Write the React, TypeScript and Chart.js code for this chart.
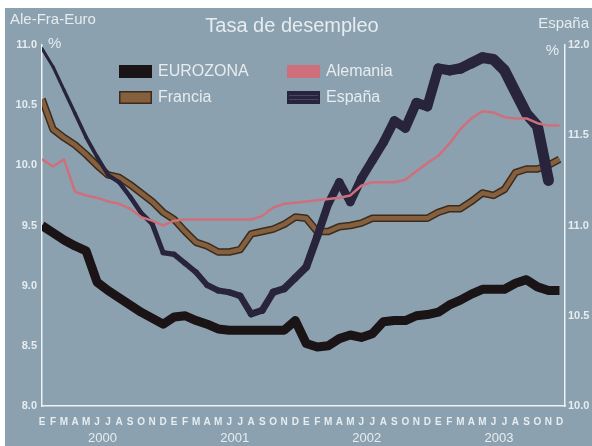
import { useEffect, useRef } from "react";
import { Chart, registerables } from "chart.js";

Chart.register(...registerables);

// ---------- data ----------
const MONTH_LETTERS = ["E", "F", "M", "A", "M", "J", "J", "A", "S", "O", "N", "D"];
const YEARS = ["2000", "2001", "2002", "2003"];
const MONTHS = YEARS.flatMap(() => MONTH_LETTERS);

const LEFT_MIN = 8.0;
const LEFT_MAX = 11.0;
const RIGHT_MIN = 10.0;
const RIGHT_MAX = 12.0;
const TICK_STEP = 0.5;

const EUROZONA = [
  9.50, 9.44, 9.38, 9.33, 9.29, 9.03, 8.96, 8.90, 8.84, 8.78, 8.73, 8.68,
  8.74, 8.75, 8.71, 8.68, 8.64, 8.63, 8.63, 8.63, 8.63, 8.63, 8.63, 8.71,
  8.52, 8.49, 8.50, 8.56, 8.59, 8.57, 8.60, 8.70, 8.71, 8.71, 8.75, 8.76,
  8.78, 8.84, 8.88, 8.93, 8.97, 8.97, 8.97, 9.02, 9.05, 8.99, 8.96, 8.96,
];

const FRANCIA = [
  10.55, 10.30, 10.23, 10.17, 10.09, 10.00, 9.92, 9.90, 9.84, 9.77, 9.70, 9.61,
  9.55, 9.45, 9.36, 9.33, 9.28, 9.28, 9.30, 9.43, 9.45, 9.47, 9.51, 9.57,
  9.56, 9.45, 9.45, 9.49, 9.50, 9.52, 9.56, 9.56, 9.56, 9.56, 9.56, 9.56,
  9.61, 9.64, 9.64, 9.70, 9.77, 9.75, 9.80, 9.94, 9.97, 9.97, 10.00, 10.05,
];

const ALEMANIA = [
  10.05, 9.99, 10.05, 9.78, 9.75, 9.73, 9.70, 9.68, 9.64, 9.57, 9.54, 9.50,
  9.54, 9.55, 9.55, 9.55, 9.55, 9.55, 9.55, 9.55, 9.58, 9.65, 9.68, 9.69,
  9.70, 9.71, 9.72, 9.73, 9.75, 9.83, 9.86, 9.86, 9.86, 9.88, 9.95, 10.02,
  10.08, 10.18, 10.30, 10.39, 10.45, 10.44, 10.40, 10.39, 10.39, 10.35, 10.33, 10.33,
];

const ESPANA = [
  11.98, 11.88, 11.75, 11.62, 11.49, 11.38, 11.28, 11.24, 11.16, 11.07, 11.01, 10.85,
  10.84, 10.79, 10.74, 10.67, 10.64, 10.63, 10.61, 10.51, 10.53, 10.63, 10.65, 10.71,
  10.77, 10.94, 11.12, 11.24, 11.13, 11.26, 11.36, 11.46, 11.58, 11.54, 11.68, 11.66,
  11.87, 11.86, 11.87, 11.90, 11.93, 11.92, 11.86, 11.74, 11.62, 11.55, 11.25, null,
];

// ---------- style ----------
const BG = "#8ba1af";
const TEXT = "#e6ecef";
const AXIS = "#eef2f4";
const FONT = '"Liberation Sans", Arial, Helvetica, sans-serif';

const C_EURO = "#1b1416";
const C_FRA = "#84603f";
const C_FRA_EDGE = "#3d2a1b";
const C_ALE = "#d06f7c";
const C_ESP = "#29243d";

const LEGEND = [
  { label: "EUROZONA", color: C_EURO, edge: C_EURO, col: 0, row: 0, stripes: false },
  { label: "Francia", color: C_FRA, edge: C_FRA_EDGE, col: 0, row: 1, stripes: false },
  { label: "Alemania", color: C_ALE, edge: C_ALE, col: 1, row: 0, stripes: false },
  { label: "España", color: C_ESP, edge: C_ESP, col: 1, row: 1, stripes: true },
];

const decorPlugin = {
  id: "decor",
  afterDraw(chart: any) {
    const { ctx, scales } = chart;
    ctx.save();
    ctx.fillStyle = TEXT;

    // title
    ctx.font = `20px ${FONT}`;
    ctx.textAlign = "center";
    ctx.textBaseline = "middle";
    ctx.fillText("Tasa de desempleo", 287, 18);

    // axis captions
    ctx.font = `15px ${FONT}`;
    ctx.textAlign = "left";
    ctx.fillText("Ale-Fra-Euro", 5, 12);
    ctx.fillText("%", 43, 36);
    ctx.textAlign = "right";
    ctx.fillText("España", 584, 16);
    ctx.fillText("%", 554, 43);

    // years
    ctx.font = `13px ${FONT}`;
    ctx.textAlign = "center";
    YEARS.forEach((y, i) => {
      const x = scales.x.getPixelForValue(i * 12 + 5.5);
      ctx.fillText(y, x, 430);
    });

    // legend
    const colX = [114, 282];
    const rowY = [57, 83];
    LEGEND.forEach((it) => {
      const bx = colX[it.col];
      const by = rowY[it.row];
      ctx.fillStyle = it.color;
      ctx.fillRect(bx, by, 33, 13);
      ctx.strokeStyle = it.edge;
      ctx.lineWidth = 1.5;
      ctx.strokeRect(bx + 0.75, by + 0.75, 31.5, 11.5);
      if (it.stripes) {
        ctx.strokeStyle = "#4a4566";
        ctx.lineWidth = 1;
        ctx.beginPath();
        ctx.moveTo(bx + 2, by + 4.5);
        ctx.lineTo(bx + 31, by + 4.5);
        ctx.moveTo(bx + 2, by + 8.5);
        ctx.lineTo(bx + 31, by + 8.5);
        ctx.stroke();
      }
      ctx.fillStyle = TEXT;
      ctx.font = `16px ${FONT}`;
      ctx.textAlign = "left";
      ctx.textBaseline = "middle";
      ctx.fillText(it.label, bx + 39, by + 7);
    });
    ctx.restore();
  },
};

export default function App() {
  const ref = useRef<HTMLCanvasElement | null>(null);

  useEffect(() => {
    if (!ref.current) return;
    const xs = MONTHS.map((_, i) => i);
    const chart = new Chart(ref.current, {
      type: "line",
      data: {
        labels: xs,
        datasets: [
          {
            label: "EUROZONA",
            data: EUROZONA,
            yAxisID: "y",
            borderColor: C_EURO,
            borderWidth: 9,
            borderJoinStyle: "round",
            borderCapStyle: "butt",
            pointRadius: 0,
            order: 1,
          },
          {
            label: "Alemania",
            data: ALEMANIA,
            yAxisID: "y",
            borderColor: C_ALE,
            borderWidth: 2.5,
            borderJoinStyle: "round",
            pointRadius: 0,
            order: 2,
          },
          {
            label: "España",
            data: ESPANA,
            yAxisID: "y1",
            borderColor: C_ESP,
            borderWidth: 6,
            borderJoinStyle: "round",
            borderCapStyle: "round",
            pointRadius: 0,
            order: 3,
            segment: {
              borderWidth: (c: any) => 3 + 8 * Math.min(1, c.p0DataIndex / 40),
            },
          },
          {
            label: "Francia",
            data: FRANCIA,
            yAxisID: "y",
            borderColor: C_FRA,
            borderWidth: 4.5,
            borderJoinStyle: "round",
            pointRadius: 0,
            order: 4,
          },
          {
            label: "Francia borde",
            data: FRANCIA,
            yAxisID: "y",
            borderColor: C_FRA_EDGE,
            borderWidth: 7.5,
            borderJoinStyle: "round",
            pointRadius: 0,
            order: 5,
          },
        ],
      },
      options: {
        animation: false,
        responsive: false,
        maintainAspectRatio: false,
        layout: { padding: { top: 37, left: 0, right: 0, bottom: 0 } },
        plugins: {
          legend: { display: false },
          tooltip: { enabled: false },
          title: { display: false },
        },
        scales: {
          x: {
            type: "linear",
            min: 0,
            max: MONTHS.length - 0.5,
            grid: { display: false, drawTicks: false },
            border: { display: true, color: AXIS, width: 1.5 },
            ticks: {
              stepSize: 1,
              includeBounds: false,
              autoSkip: false,
              maxRotation: 0,
              padding: 10,
              color: TEXT,
              font: { family: FONT, size: 10, weight: "bold" },
              callback: (v: any) =>
                Number.isInteger(v) && MONTHS[v] ? MONTHS[v] : "",
            },
            afterFit: (s: any) => {
              s.height = 40;
            },
          },
          y: {
            type: "linear",
            position: "left",
            min: LEFT_MIN,
            max: LEFT_MAX,
            grid: { display: false, drawTicks: false },
            border: { display: true, color: AXIS, width: 1.5 },
            ticks: {
              stepSize: TICK_STEP,
              padding: 5,
              color: TEXT,
              font: { family: FONT, size: 11, weight: "bold" },
              callback: (v: any) => Number(v).toFixed(1),
            },
            afterFit: (s: any) => {
              s.width = 37;
            },
          },
          y1: {
            type: "linear",
            position: "right",
            min: RIGHT_MIN,
            max: RIGHT_MAX,
            grid: { display: false, drawTicks: false },
            border: { display: true, color: AXIS, width: 1.5 },
            ticks: {
              stepSize: TICK_STEP,
              padding: 3,
              color: TEXT,
              font: { family: FONT, size: 11, weight: "bold" },
              callback: (v: any) => Number(v).toFixed(1),
            },
            afterFit: (s: any) => {
              s.width = 27;
            },
          },
        },
      },
      plugins: [decorPlugin],
    } as any);
    return () => chart.destroy();
  }, []);

  return (
    <div
      style={{
        position: "absolute",
        left: 5,
        top: 8,
        width: 587,
        height: 438,
        background: BG,
        overflow: "hidden",
      }}
    >
      <canvas ref={ref} width={587} height={438} style={{ display: "block" }} />
    </div>
  );
}
